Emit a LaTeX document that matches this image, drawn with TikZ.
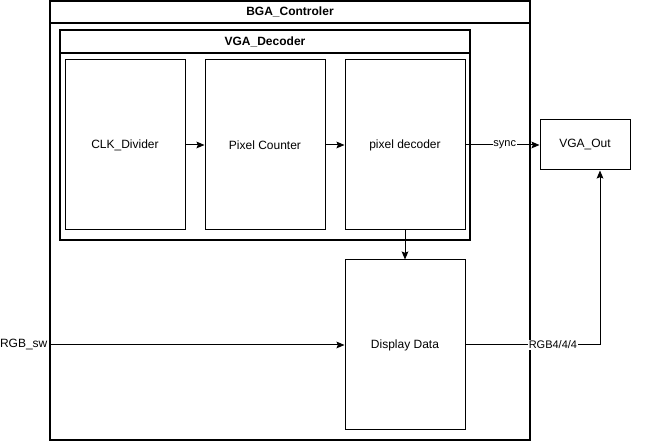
\documentclass[tikz,border=0pt]{standalone}
\usepackage{fontspec}
\setmainfont{Liberation Sans}
\usetikzlibrary{arrows.meta, positioning}

\begin{document}
\begin{tikzpicture}[
  x=0.75pt, y=-0.75pt,
  lane/.style={rectangle, draw, line width=0.9pt, inner sep=0pt},
  block/.style={rectangle, draw, line width=0.75pt, minimum width=90pt, minimum height=127.5pt, align=center, font=\fontsize{9}{11}\selectfont},
  title/.style={font=\fontsize{9}{11}\selectfont\bfseries},
  arrow/.style={-{Stealth[length=6pt, width=5pt, inset=1pt]}, line width=0.75pt},
  wire/.style={fill=white, inner sep=0.5pt, font=\fontsize{8.25}{10}\selectfont}
]
  \useasboundingbox (0,0) rectangle (661,441);

  % Controller container
  \node[lane, minimum width=360pt, minimum height=329.25pt] (ctrl) at (290,220.5) {};
  \draw[line width=0.9pt] (50,23) -- (530,23);
  \node[title] (ctrltitle) at (290,12) {BGA\_Controler};

  % Decoder container
  \node[lane, minimum width=307.5pt, minimum height=157.5pt] (dec) at (265,135) {};
  \draw[line width=0.9pt] (60,53) -- (470,53);
  \node[title] (dectitle) at (265,42) {VGA\_Decoder};

  % Blocks
  \node[block] (clk) at (125,145) {CLK\_Divider};
  \node[block] (counter) at (265,145) {Pixel Counter};
  \node[block] (pixdec) at (405,145) {pixel decoder};
  \node[block] (display) at (405,345) {Display Data};
  \node[block, minimum width=67.5pt, minimum height=37.5pt] (out) at (585,145) {VGA\_Out};

  % Data flow
  \draw[arrow] (clk) -- (counter);
  \draw[arrow] (counter) -- (pixdec);
  \draw[arrow] (pixdec) -- node[wire, pos=0.53] {sync} (out);
  \draw[arrow] (pixdec) -- (display);

  % Inputs and outputs
  \coordinate (rgbin) at (49,345);
  \node[anchor=east, inner sep=1pt, font=\fontsize{9}{11}\selectfont] (rgblabel) at (rgbin) {RGB\_sw};
  \draw[arrow] (rgbin) -- (display);
  \draw[arrow] (display.east) -- node[wire, pos=0.65] {RGB4/4/4} (600,345) -- (out.south -| 600,0);
\end{tikzpicture}
\end{document}
